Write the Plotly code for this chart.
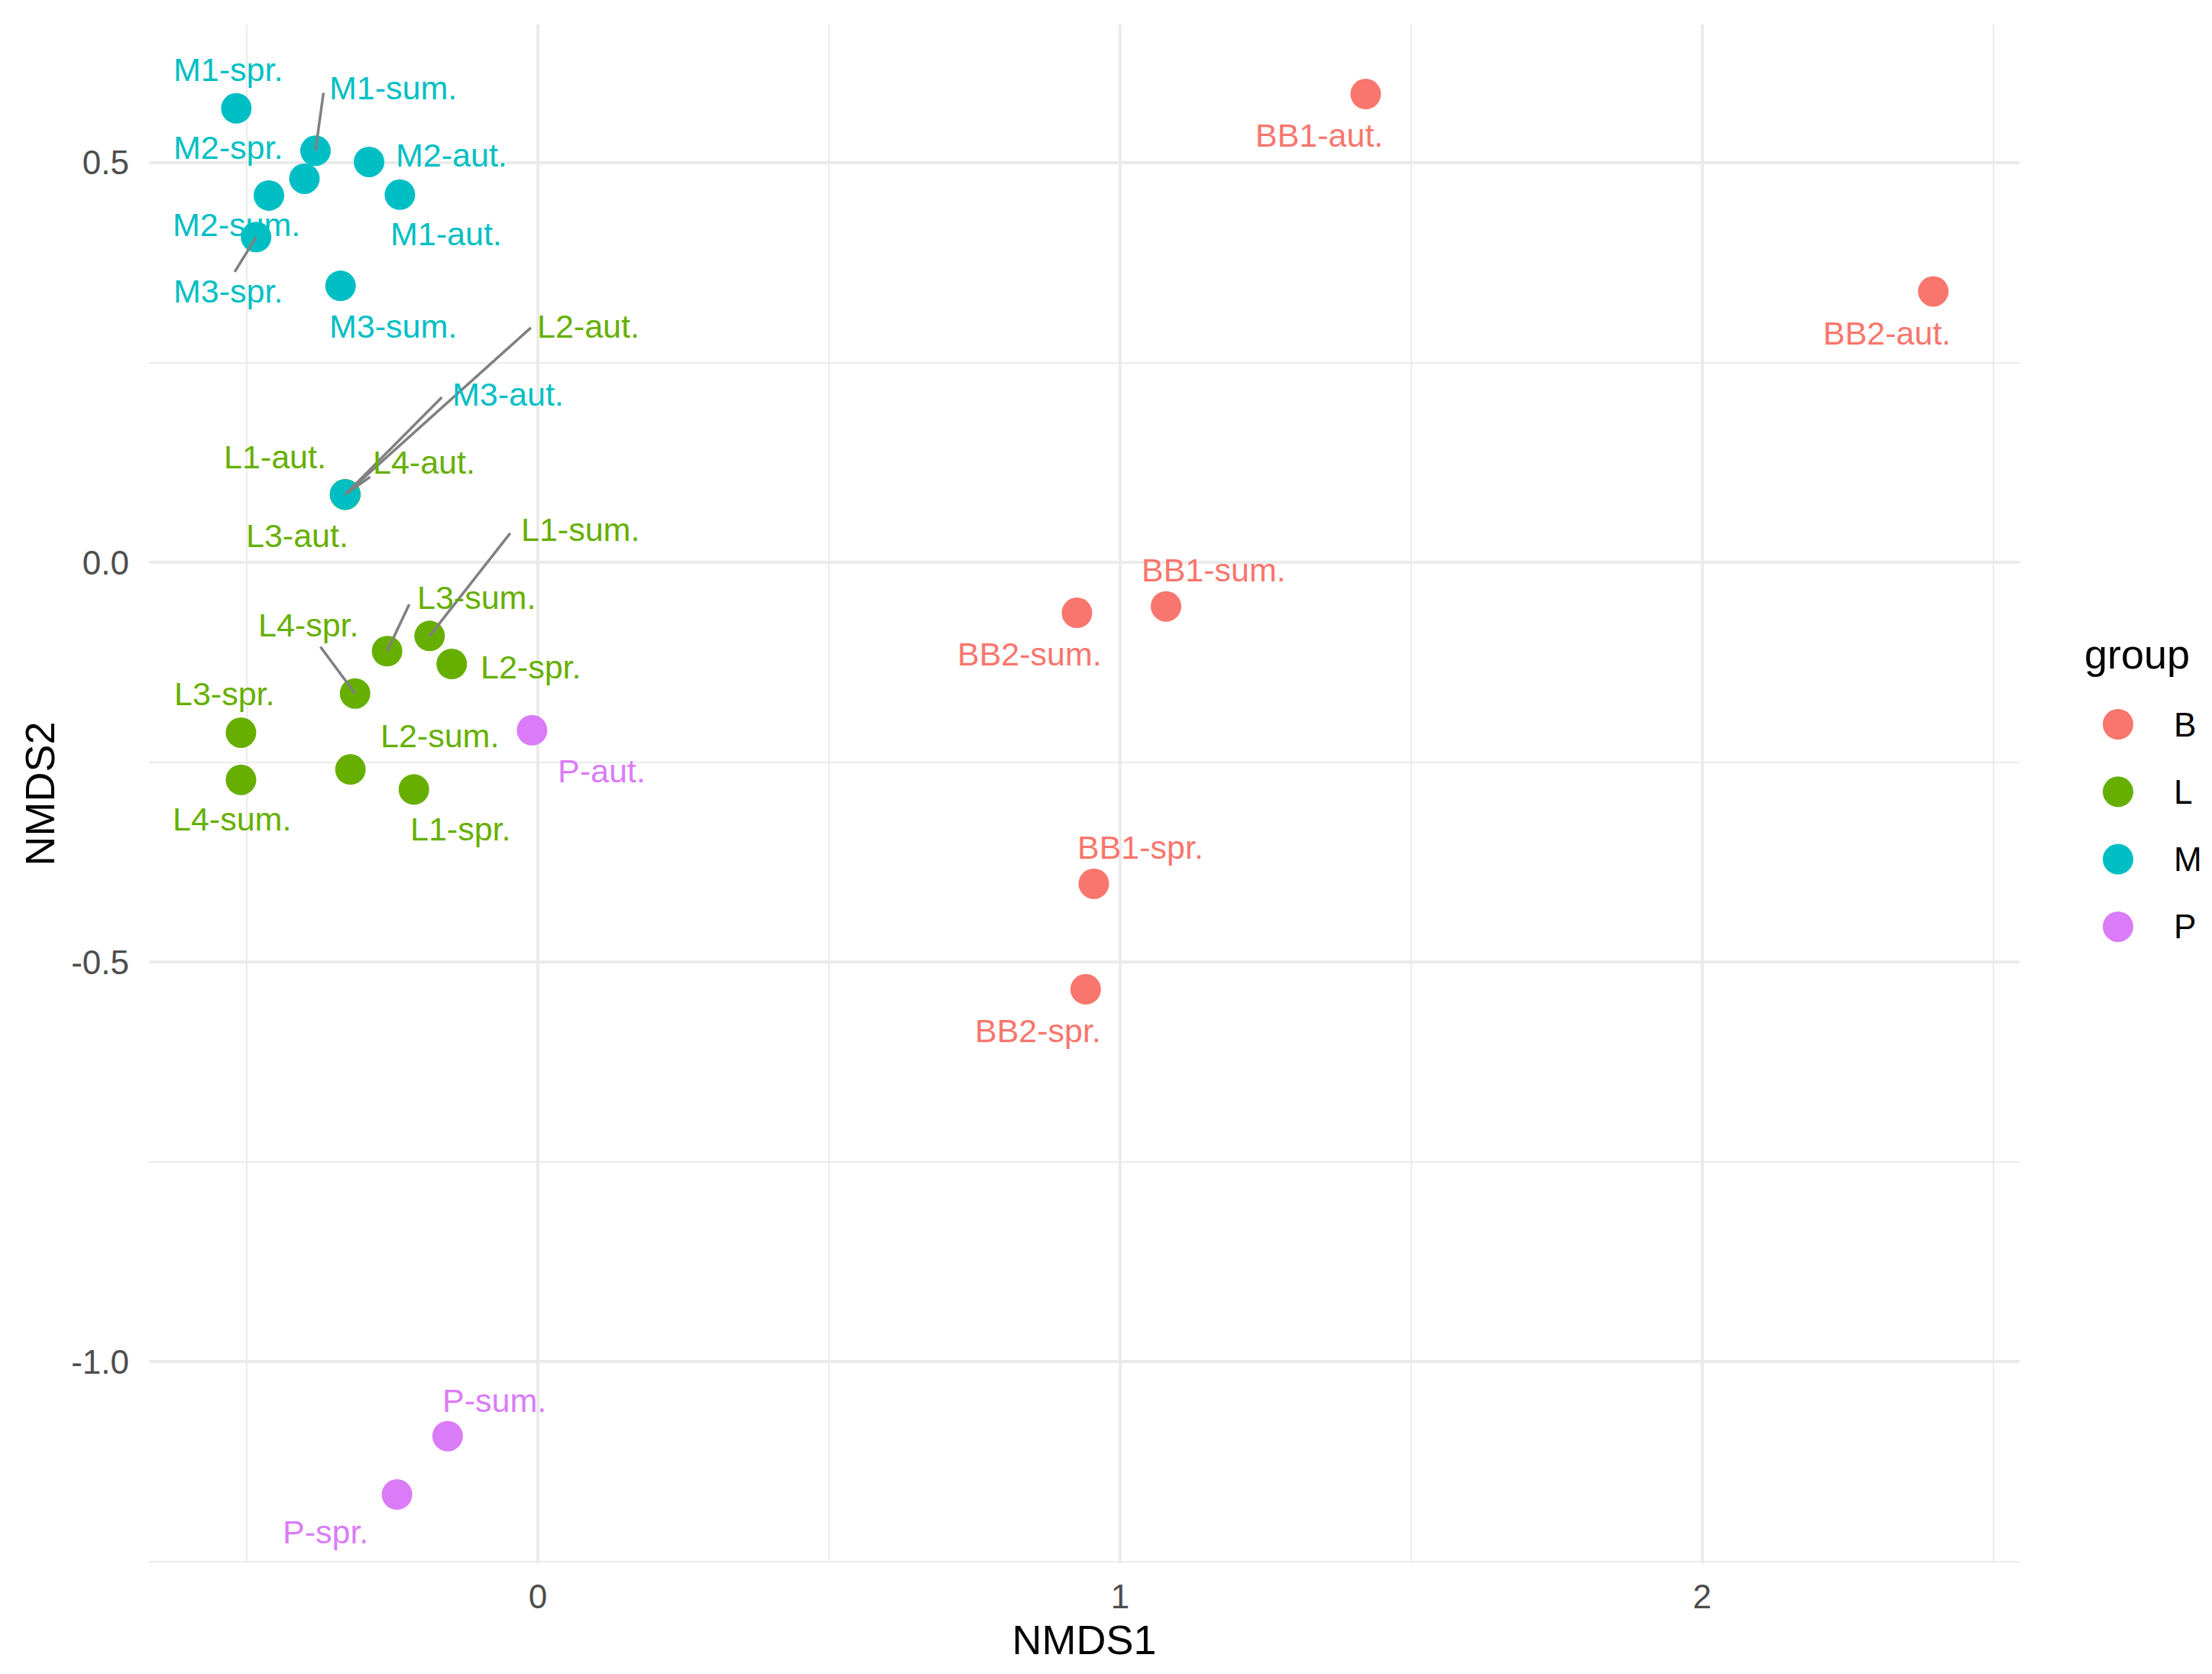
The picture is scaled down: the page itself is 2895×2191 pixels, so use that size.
import plotly.graph_objects as go

# NMDS scores
names = ['BB1-aut.', 'BB2-aut.', 'BB1-sum.', 'BB2-sum.', 'BB1-spr.', 'BB2-spr.',
         'L1-aut.', 'L2-aut.', 'L3-aut.', 'L4-aut.',
         'L1-sum.', 'L2-sum.', 'L3-sum.', 'L4-sum.',
         'L1-spr.', 'L2-spr.', 'L3-spr.', 'L4-spr.',
         'M1-aut.', 'M2-aut.', 'M3-aut.', 'M1-sum.', 'M2-sum.', 'M3-sum.',
         'M1-spr.', 'M2-spr.', 'M3-spr.',
         'P-aut.', 'P-sum.', 'P-spr.']
nmds1 = [1.422, 2.397, 1.079, 0.926, 0.955, 0.941,
         -0.331, -0.331, -0.331, -0.331,
         -0.186, -0.322, -0.259, -0.510,
         -0.213, -0.148, -0.510, -0.314,
         -0.237, -0.290, -0.331, -0.382, -0.462, -0.339,
         -0.518, -0.401, -0.484,
         -0.010, -0.155, -0.242]
nmds2 = [0.586, 0.339, -0.055, -0.063, -0.402, -0.534,
         0.085, 0.085, 0.085, 0.085,
         -0.092, -0.259, -0.111, -0.272,
         -0.284, -0.127, -0.213, -0.164,
         0.460, 0.501, 0.085, 0.515, 0.459, 0.346,
         0.568, 0.480, 0.407,
         -0.210, -1.093, -1.166]
group = ['B'] * 6 + ['L'] * 12 + ['M'] * 9 + ['P'] * 3

group_levels = ['B', 'L', 'M', 'P']
colors = {'B': '#F8766D', 'L': '#66AF00', 'M': '#00BFC4', 'P': '#DA7CF8'}

# where the repelled labels sit (data units)
label_x = [1.342, 2.317, 1.161, 0.844, 1.035, 0.859,
           -0.452, 0.087, -0.414, -0.196,
           0.073, -0.169, -0.106, -0.525,
           -0.133, -0.012, -0.539, -0.394,
           -0.157, -0.148, -0.051, -0.249, -0.518, -0.249,
           -0.532, -0.532, -0.532,
           0.109, -0.075, -0.365]
label_y = [0.534, 0.287, -0.009, -0.115, -0.356, -0.586,
           0.132, 0.295, 0.034, 0.125,
           0.041, -0.217, -0.044, -0.321,
           -0.333, -0.131, -0.164, -0.078,
           0.411, 0.510, 0.210, 0.594, 0.423, 0.295,
           0.617, 0.519, 0.339,
           -0.261, -1.048, -1.213]
# start of the leader segment at the label box (None = no segment)
seg_x = [None] * 7 + [-0.010, None, -0.286,
         -0.046, None, -0.220, None,
         None, None, None, -0.375,
         None, None, -0.163, -0.368, None, None,
         None, None, -0.522,
         None, None, None]
seg_y = [None] * 7 + [0.295, None, 0.108,
         0.038, None, -0.051, None,
         None, None, None, -0.104,
         None, None, 0.208, 0.589, None, None,
         None, None, 0.362,
         None, None, None]

FONT = 'Liberation Sans, Arial, sans-serif'
W, H = 2895, 2191
L_M, R_M, T_M, B_M = 195, 252, 32, 145

fig = go.Figure()
for g in group_levels:
    idx = [i for i, v in enumerate(group) if v == g]
    fig.add_trace(go.Scatter(
        x=[nmds1[i] for i in idx],
        y=[nmds2[i] for i in idx],
        mode='markers',
        name=g,
        marker=dict(color=colors[g], size=40, line=dict(width=0)),
        showlegend=False,
    ))

annotations = []
for i, n in enumerate(names):
    if seg_x[i] is not None:
        annotations.append(dict(
            x=nmds1[i], y=nmds2[i], ax=seg_x[i], ay=seg_y[i],
            xref='x', yref='y', axref='x', ayref='y',
            text='', showarrow=True, arrowhead=0, arrowwidth=3.5,
            arrowcolor='#808080', standoff=0, startstandoff=0,
        ))
for i, n in enumerate(names):
    annotations.append(dict(
        x=label_x[i], y=label_y[i], xref='x', yref='y',
        text=n, showarrow=False, borderpad=0,
        font=dict(family=FONT, size=43, color=colors[group[i]]),
    ))

# legend drawn by hand so the keys keep the point size
pw = W - L_M - R_M
ph = H - T_M - B_M
def px(xp):
    return (xp - L_M) / pw
def py(yp):
    return (H - B_M - yp) / ph

shapes = []
annotations.append(dict(x=px(2726), y=py(856), xref='paper', yref='paper',
                        text='group', showarrow=False, xanchor='left', yanchor='middle',
                        font=dict(family=FONT, size=54, color='black')))
for k, g in enumerate(group_levels):
    yc = 948 + k * 88.3
    shapes.append(dict(type='circle', xref='paper', yref='paper',
                       xsizemode='pixel', ysizemode='pixel',
                       xanchor=px(2772), yanchor=py(yc),
                       x0=-20, x1=20, y0=-20, y1=20,
                       fillcolor=colors[g], line=dict(width=0)))
    annotations.append(dict(x=px(2843), y=py(yc), xref='paper', yref='paper',
                            text=g, showarrow=False, xanchor='left', yanchor='middle',
                            font=dict(family=FONT, size=44, color='black')))

axis_common = dict(
    showgrid=True, gridcolor='#EBEBEB', gridwidth=4,
    zeroline=False, showline=False, ticks='',
    tickfont=dict(family=FONT, size=44, color='#4D4D4D'),
    minor=dict(showgrid=True, gridcolor='#EBEBEB', gridwidth=2),
)

fig.update_layout(
    width=W, height=H,
    margin=dict(l=L_M, r=R_M, t=T_M, b=B_M),
    paper_bgcolor='white', plot_bgcolor='white',
    xaxis=dict(axis_common, range=[-0.668, 2.545], tickvals=[0, 1, 2],
               ticktext=['0', '1', '2'], minor_tickvals=[-0.5, 0.5, 1.5, 2.5],
               ticklabelstandoff=14,
               title=dict(text='NMDS1', font=dict(family=FONT, size=54, color='black'),
                          standoff=14)),
    yaxis=dict(axis_common, range=[-1.252, 0.673], tickvals=[-1.0, -0.5, 0.0, 0.5],
               ticktext=['-1.0', '-0.5', '0.0', '0.5'],
               minor_tickvals=[-1.25, -0.75, -0.25, 0.25],
               ticklabelstandoff=25,
               title=dict(text='NMDS2', font=dict(family=FONT, size=54, color='black'),
                          standoff=4)),
    annotations=annotations,
    shapes=shapes,
    showlegend=False,
)

fig.write_html("out.html", config={'displayModeBar': False},
               post_script="document.body.style.margin='0';")
